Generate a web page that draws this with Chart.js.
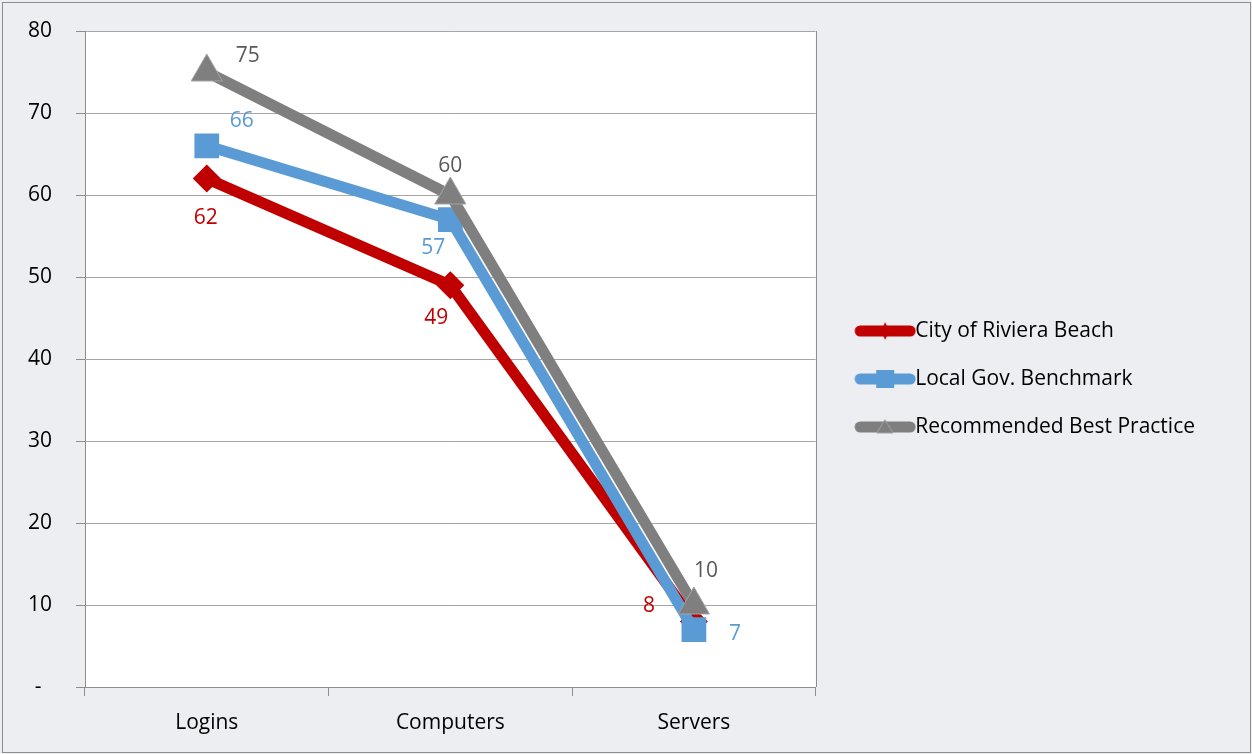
<!DOCTYPE html>
<html>
<head>
<meta charset="utf-8">
<script src="https://cdn.jsdelivr.net/npm/chart.js@4.4.1/dist/chart.umd.min.js"></script>
<style>
  html, body { margin: 0; padding: 0; background: #EDEEF2; }
</style>
</head>
<body>
<canvas id="chart" width="1252" height="754"></canvas>
<script>
// Data
const categories = ['Logins', 'Computers', 'Servers'];
const seriesNames = ['City of Riviera Beach', 'Local Gov. Benchmark', 'Recommended Best Practice'];
const rivieraBeach = [62, 49, 8];
const localBenchmark = [66, 57, 7];
const bestPractice = [75, 60, 10];

// Styling
const lineColors = ['#C00000', '#5B9BD5', '#7F7F7F'];
const labelColors = ['#C00000', '#5B9BD5', '#595959'];
const fontFamily = "'Open Sans', sans-serif";
const fontSize = 21;

// data label offsets (px from the point), per series / per category
const labelOffsets = [
    [[-1, 39], [-14, 33], [-45, -15]],
    [[35, -25], [-17, 28], [41, 4]],
    [[41, -16], [0, -29], [12, -34]]
];

// Legend icons: thick line with a small marker, like the spreadsheet legend
const ICON_W = 85;
function legendIcon(i) {
    const c = document.createElement('canvas');
    c.width = ICON_W;
    c.height = 24;
    const g = c.getContext('2d');
    const cy = 12, mx = ICON_W - 31;
    g.strokeStyle = lineColors[i];
    g.lineWidth = 11;
    g.lineCap = 'round';
    g.beginPath();
    g.moveTo(ICON_W - 56, cy);
    g.lineTo(ICON_W - 6, cy);
    g.stroke();
    g.fillStyle = lineColors[i];
    g.beginPath();
    if (i === 0) {
        g.moveTo(mx, cy - 9);
        g.lineTo(mx + 4, cy);
        g.lineTo(mx, cy + 9);
        g.lineTo(mx - 4, cy);
    } else if (i === 1) {
        g.rect(mx - 9, cy - 9, 18, 18);
    } else {
        g.moveTo(mx, cy - 7);
        g.lineTo(mx + 8, cy + 6);
        g.lineTo(mx - 8, cy + 6);
    }
    g.closePath();
    g.fill();
    if (i === 2) {
        g.strokeStyle = '#A5A5A5';
        g.lineWidth = 1;
        g.stroke();
    }
    return c;
}
const icons = [0, 1, 2].map(legendIcon);

// page background, outer frame and white plot area
const frame = {
    id: 'frame',
    beforeDraw(chart) {
        const {ctx, chartArea: a, width, height} = chart;
        ctx.save();
        ctx.fillStyle = '#EDEEF2';
        ctx.fillRect(0, 0, width, height);
        ctx.strokeStyle = '#8E8E8E';
        ctx.lineWidth = 1;
        ctx.strokeRect(2.5, 2.5, width - 4, height - 4);
        ctx.fillStyle = '#FFFFFF';
        ctx.fillRect(a.left, a.top, a.right - a.left, a.bottom - a.top);
        ctx.restore();
    },
    beforeDatasetsDraw(chart) {
        const {ctx, chartArea: a} = chart;
        ctx.save();
        ctx.strokeStyle = '#8E8E8E';
        ctx.lineWidth = 1;
        ctx.beginPath();
        ctx.moveTo(Math.round(a.right) + 0.5, a.top);
        ctx.lineTo(Math.round(a.right) + 0.5, a.bottom);
        ctx.stroke();
        ctx.restore();
    }
};

// value labels next to each point
const valueLabels = {
    id: 'valueLabels',
    afterDatasetsDraw(chart) {
        const ctx = chart.ctx;
        ctx.save();
        ctx.font = fontSize + 'px ' + fontFamily;
        ctx.textAlign = 'center';
        ctx.textBaseline = 'middle';
        chart.data.datasets.forEach((ds, di) => {
            const meta = chart.getDatasetMeta(di);
            ctx.fillStyle = labelColors[di];
            meta.data.forEach((pt, i) => {
                const off = labelOffsets[di][i];
                ctx.fillText(String(ds.data[i]), pt.x + off[0], pt.y + off[1]);
            });
        });
        ctx.restore();
    }
};

// legend sizing: text must start right after the icon
const legendPad = 27;
const boxW = ICON_W - fontSize - 2;  // text x = box + boxW + fontSize/2
const measure = document.createElement('canvas').getContext('2d');
measure.font = fontSize + 'px ' + fontFamily;
const maxText = Math.max(...seriesNames.map(s => measure.measureText(s).width));
const legendWidth = Math.ceil(legendPad + boxW + fontSize / 2 + maxText + 10);
const plotRight = 815;
const rightPad = Math.max(0, 1252 - plotRight - legendWidth);

const ctx = document.getElementById('chart').getContext('2d');
new Chart(ctx, {
    type: 'line',
    data: {
        labels: categories,
        datasets: [
            {
                label: seriesNames[0],
                data: rivieraBeach,
                borderColor: lineColors[0],
                backgroundColor: lineColors[0],
                borderWidth: 11,
                pointStyle: 'rectRot',
                pointRadius: 14,
                pointBorderWidth: 0,
                order: 2
            },
            {
                label: seriesNames[1],
                data: localBenchmark,
                borderColor: lineColors[1],
                backgroundColor: lineColors[1],
                borderWidth: 11,
                pointStyle: 'rect',
                pointRadius: 17.5,
                pointBorderWidth: 0,
                order: 1
            },
            {
                label: seriesNames[2],
                data: bestPractice,
                borderColor: lineColors[2],
                backgroundColor: lineColors[2],
                borderWidth: 11,
                pointStyle: 'triangle',
                pointRadius: 18,
                pointBorderColor: '#A5A5A5',
                pointBorderWidth: 1,
                order: 0
            }
        ]
    },
    options: {
        responsive: false,
        animation: false,
        devicePixelRatio: 1,
        layout: {
            autoPadding: false,
            padding: { left: 0, top: 31, right: rightPad, bottom: 8 }
        },
        plugins: {
            tooltip: { enabled: false },
            legend: {
                display: true,
                position: 'right',
                align: 'center',
                fullSize: false,
                maxWidth: legendWidth,
                title: {
                    display: true,
                    text: ' ',
                    font: { size: 10, lineHeight: 1 },
                    padding: { top: 0, bottom: 30 }
                },
                labels: {
                    usePointStyle: true,
                    pointStyleWidth: boxW,
                    padding: legendPad,
                    color: '#000000',
                    font: { family: fontFamily, size: fontSize },
                    generateLabels: function(chart) {
                        return chart.data.datasets.map((ds, i) => ({
                            text: ds.label,
                            fontColor: '#000000',
                            pointStyle: icons[i],
                            fillStyle: lineColors[i],
                            strokeStyle: lineColors[i],
                            lineWidth: 0,
                            hidden: false,
                            datasetIndex: i
                        }));
                    }
                }
            }
        },
        scales: {
            x: {
                offset: true,
                grid: {
                    offset: true,
                    drawOnChartArea: false,
                    drawTicks: true,
                    tickLength: 9,
                    tickColor: '#8E8E8E'
                },
                border: { color: '#8E8E8E', width: 1 },
                ticks: {
                    color: '#000000',
                    padding: 14,
                    font: { family: fontFamily, size: fontSize }
                },
                afterFit(scale) { scale.height = 59; }
            },
            y: {
                min: 0,
                max: 80,
                grid: {
                    color: '#A6A6A6',
                    tickLength: 9,
                    tickColor: '#8E8E8E'
                },
                border: { color: '#8E8E8E', width: 1 },
                ticks: {
                    stepSize: 10,
                    color: '#000000',
                    padding: 24,
                    font: { family: fontFamily, size: fontSize },
                    callback: v => v === 0 ? '-\u2002' : v
                },
                afterFit(scale) {
                    scale.width = 85;
                    // label padding should not push the plot top down
                    scale.paddingTop = 0;
                    scale.paddingBottom = 0;
                }
            }
        }
    },
    plugins: [frame, valueLabels]
});
</script>
</body>
</html>
